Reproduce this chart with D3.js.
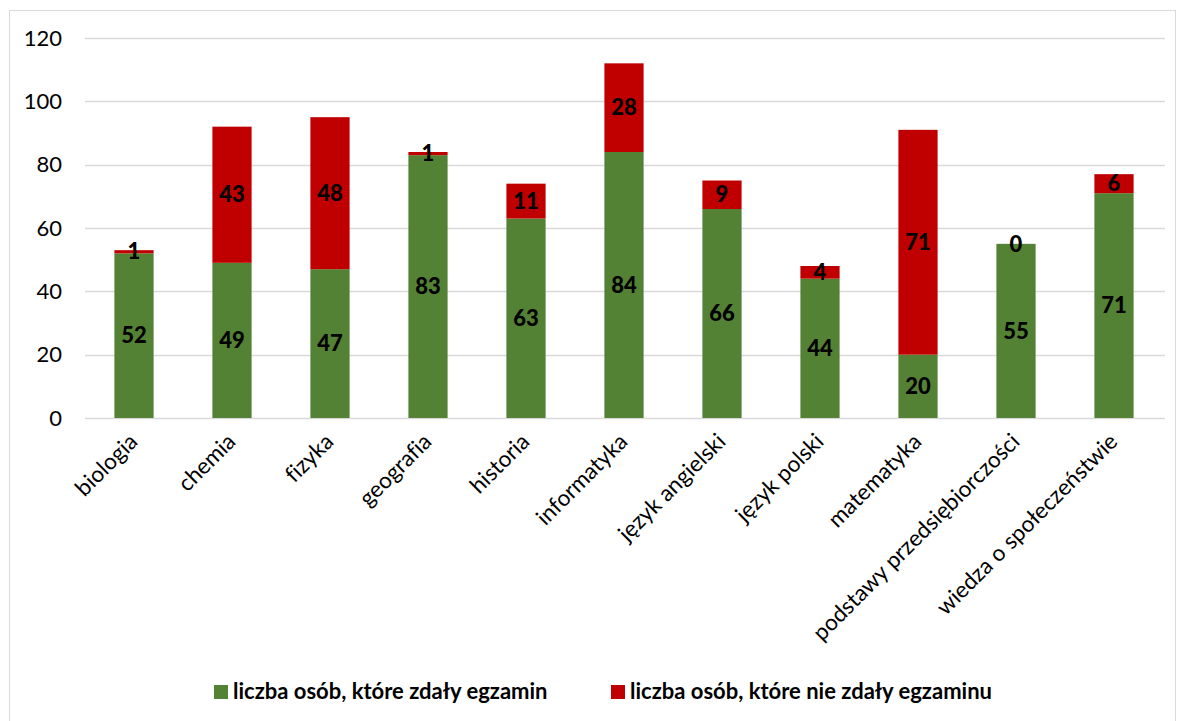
<!DOCTYPE html>
<html>
<head>
<meta charset="utf-8">
<script src="https://cdn.jsdelivr.net/npm/d3@7"></script>
<style>
  body { margin: 0; background: #fff; }
  svg { font-family: Lato, "Open Sans", sans-serif; font-variant-ligatures: none; }
</style>
</head>
<body>
<div id="chart"></div>
<script>
var categories = ["biologia", "chemia", "fizyka", "geografia", "historia", "informatyka",
  "język angielski", "język polski", "matematyka", "podstawy przedsiębiorczości", "wiedza o społeczeństwie"];
var passed = [52, 49, 47, 83, 63, 84, 66, 44, 20, 55, 71];
var failed = [1, 43, 48, 1, 11, 28, 9, 4, 71, 0, 6];
var seriesNames = ["liczba osób, które zdały egzamin", "liczba osób, które nie zdały egzaminu"];
var yTicks = [0, 20, 40, 60, 80, 100, 120];

var green = "#548235", red = "#C00000";
var width = 1178, height = 721;

var svg = d3.select("#chart").append("svg")
  .attr("width", width)
  .attr("height", height);

svg.append("rect")
  .attr("x", 9.5).attr("y", 10.5)
  .attr("width", 1166).attr("height", 720)
  .attr("fill", "none")
  .attr("stroke", "#d9d9d9");

var x = d3.scaleBand()
  .domain(categories)
  .range([85, 1163])
  .paddingInner(0.6)
  .paddingOuter(0.3);

var y = d3.scaleLinear()
  .domain([0, 120])
  .range([418, 38]);

// gridlines
svg.append("g")
  .selectAll("line")
  .data(yTicks)
  .join("line")
  .attr("x1", 85).attr("x2", 1165)
  .attr("y1", function(d) { return Math.round(y(d)) + 0.5; })
  .attr("y2", function(d) { return Math.round(y(d)) + 0.5; })
  .attr("stroke", "#d9d9d9")
  .attr("stroke-width", 1.5);

// y tick labels
svg.append("g")
  .selectAll("text")
  .data(yTicks)
  .join("text")
  .attr("x", 62)
  .attr("y", function(d) { return y(d); })
  .attr("dy", "0.35em")
  .attr("text-anchor", "end")
  .style("font-size", "22px")
  .attr("fill", "#000")
  .text(function(d) { return d; });

var rows = categories.map(function(c, i) {
  return { cat: c, passed: passed[i], failed: failed[i] };
});
var stack = d3.stack().keys(["passed", "failed"])(rows);
var colors = [green, red];

var layers = svg.append("g")
  .selectAll("g")
  .data(stack)
  .join("g")
  .attr("fill", function(d, i) { return colors[i]; });

layers.selectAll("rect")
  .data(function(d) { return d; })
  .join("rect")
  .attr("x", function(d) { return x(d.data.cat); })
  .attr("width", x.bandwidth())
  .attr("y", function(d) { return y(d[1]); })
  .attr("height", function(d) { return y(d[0]) - y(d[1]); });

// value labels
svg.append("g")
  .selectAll("g")
  .data(stack)
  .join("g")
  .selectAll("text")
  .data(function(d) { return d; })
  .join("text")
  .attr("x", function(d) { return x(d.data.cat) + x.bandwidth() / 2; })
  .attr("y", function(d) { return (y(d[0]) + y(d[1])) / 2; })
  .attr("dy", "0.35em")
  .attr("text-anchor", "middle")
  .style("font-size", "22px")
  .style("font-weight", "900")
  .attr("fill", "#000")
  .text(function(d) { return d[1] - d[0]; });

// category labels
svg.append("g")
  .selectAll("text")
  .data(categories)
  .join("text")
  .attr("transform", function(d) {
    return "translate(" + (x(d) + x.bandwidth() / 2 + 5) + ",443) rotate(-45)";
  })
  .attr("text-anchor", "end")
  .style("font-size", "22.5px")
  .attr("fill", "#000")
  .text(function(d) { return d; });

// legend
var legend = svg.append("g")
  .selectAll("g")
  .data(seriesNames)
  .join("g")
  .attr("transform", function(d, i) { return "translate(" + (i === 0 ? 214 : 611) + ",685)"; });

legend.append("rect")
  .attr("width", 14).attr("height", 14)
  .attr("fill", function(d, i) { return colors[i]; });

legend.append("text")
  .attr("x", 19)
  .attr("y", 14)
  .style("font-size", "22px")
  .style("font-weight", "bold")
  .attr("fill", "#000")
  .text(function(d) { return d; });
</script>
</body>
</html>
